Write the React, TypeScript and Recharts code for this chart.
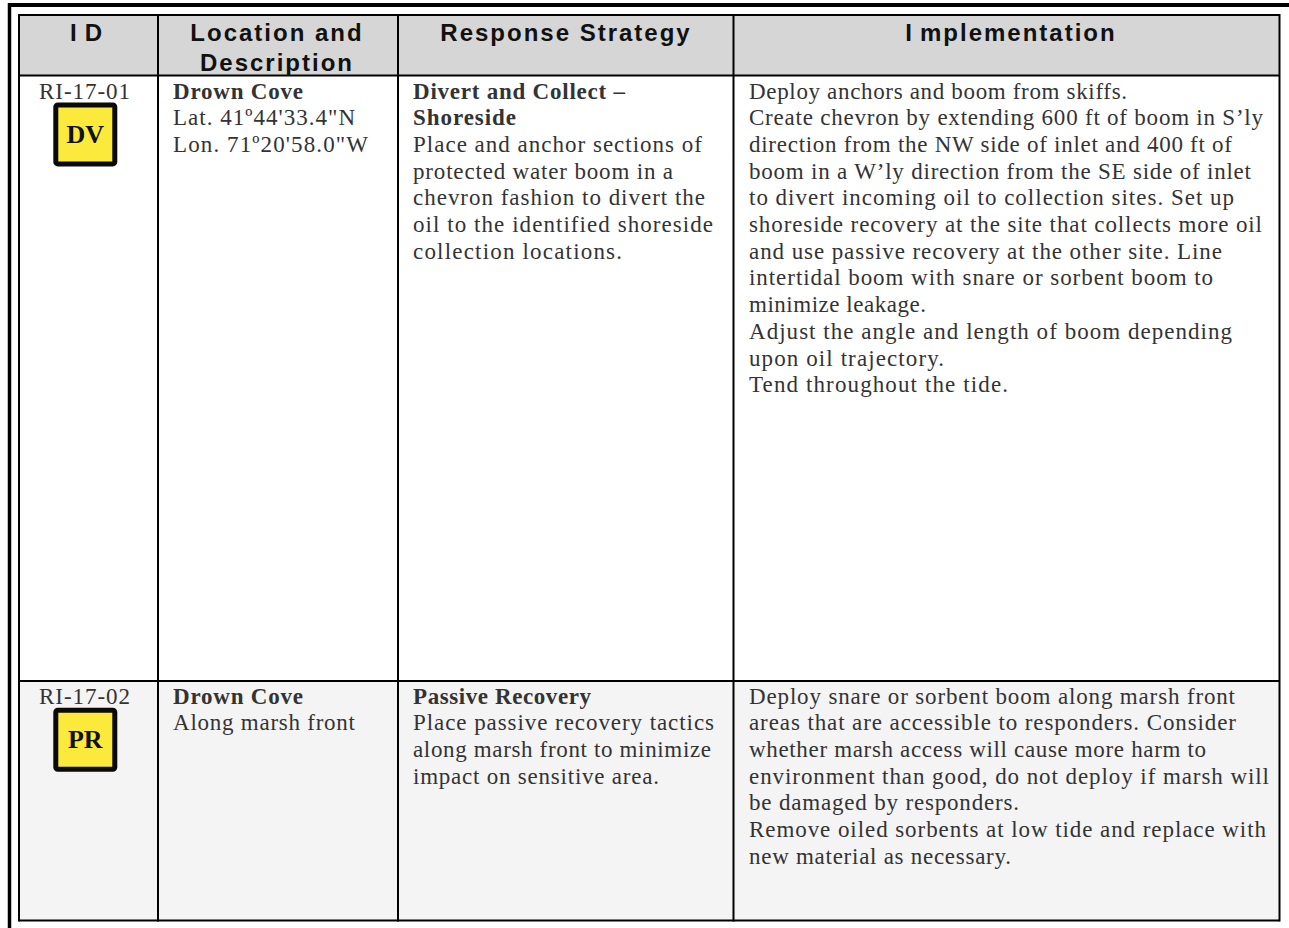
import { ScatterChart, Scatter, XAxis, YAxis, ReferenceArea, ReferenceLine } from "recharts";

const WIDTH = 1289;
const HEIGHT = 928;

const columnEdges = [19, 158, 398, 733.5, 1279.5];
const rowEdges = [15, 75.5, 681, 920.5];
const rowFills = ["#d6d6d6", "#ffffff", "#f4f4f4"];

const headerLabels = [["ID"], ["Location and", "Description"], ["Response Strategy"], ["Implementation"]];
const headerCenters = [87, 277, 566, 1011];

const ids = ["RI-17-01", "RI-17-02"];
const badges = ["DV", "PR"];

const locationBold = [["Drown Cove"], ["Drown Cove"]];
const locationText = [["Lat. 41º44'33.4\"N", "Lon. 71º20'58.0\"W"], ["Along marsh front"]];

const strategyBold = [["Divert and Collect –", "Shoreside"], ["Passive Recovery"]];
const strategyText = [
  [
    "Place and anchor sections of",
    "protected water boom in a",
    "chevron fashion to divert the",
    "oil to the identified shoreside",
    "collection locations.",
  ],
  ["Place passive recovery tactics", "along marsh front to minimize", "impact on sensitive area."],
];

const implementationText = [
  [
    "Deploy anchors and boom from skiffs.",
    "Create chevron by extending 600 ft of boom in S’ly",
    "direction from the NW side of inlet and 400 ft of",
    "boom in a W’ly direction from the SE side of inlet",
    "to divert incoming oil to collection sites. Set up",
    "shoreside recovery at the site that collects more oil",
    "and use passive recovery at the other site. Line",
    "intertidal boom with snare or sorbent boom to",
    "minimize leakage.",
    "Adjust the angle and length of boom depending",
    "upon oil trajectory.",
    "Tend throughout the tide.",
  ],
  [
    "Deploy snare or sorbent boom along marsh front",
    "areas that are accessible to responders. Consider",
    "whether marsh access will cause more harm to",
    "environment than good, do not deploy if marsh will",
    "be damaged by responders.",
    "Remove oiled sorbents at low tide and replace with",
    "new material as necessary.",
  ],
];

// measured run length of each line, the pdf spacing is uneven
const idWidth = 91;
const locationWidths = [[130, 182, 195], [130, 182]];
const strategyWidths = [[212, 103, 289, 260, 292, 300, 209], [178, 301, 298, 246]];
const implementationWidths = [
  [378, 514, 483, 502, 485, 513, 473, 464, 177, 483, 195, 259],
  [486, 487, 457, 520, 270, 517, 262],
];

const firstBaselines = [98.5, 703.5];
const linePitch = 26.7;
const textLefts = [173, 413, 749];
const idCenter = 84.5;
const badgeCenter = 85.3;
const badgeOffsets = [134.4, 739.7];

type TextPoint = { x: number; y: number; label: string; run: number; bold?: boolean; anchor?: string };

function cellLines(row: number, left: number, bold: string[], normal: string[], runs: number[]): TextPoint[] {
  return [
    ...bold.map((label) => ({ label, bold: true })),
    ...normal.map((label) => ({ label, bold: false })),
  ].map((l, i) => ({ ...l, x: left, y: firstBaselines[row] + i * linePitch, run: runs[i] }));
}

const bodyPoints: TextPoint[] = [0, 1].flatMap((row) => [
  { x: idCenter, y: firstBaselines[row], label: ids[row], run: idWidth, anchor: "middle" },
  ...cellLines(row, textLefts[0], locationBold[row], locationText[row], locationWidths[row]),
  ...cellLines(row, textLefts[1], strategyBold[row], strategyText[row], strategyWidths[row]),
  ...cellLines(row, textLefts[2], [], implementationText[row], implementationWidths[row]),
]);

const headerPoints = headerLabels.flatMap((lines, c) =>
  lines.map((label, i) => ({ x: headerCenters[c], y: 40.5 + i * 30, label })),
);

const badgePoints = badges.map((label, i) => ({ x: badgeCenter, y: badgeOffsets[i], label }));

function BodyText(props: any) {
  const { cx, cy, payload } = props;
  return (
    <text
      x={cx}
      y={cy}
      textAnchor={payload.anchor ?? "start"}
      fontFamily="'Liberation Serif', serif"
      fontSize={23}
      fontWeight={payload.bold ? 700 : 400}
      textLength={payload.run}
      lengthAdjust="spacing"
      fill="#333333"
    >
      {payload.label}
    </text>
  );
}

// the source pdf font leaves a wide gap after a leading capital I
function HeaderText(props: any) {
  const { cx, cy, payload } = props;
  const label: string = payload.label;
  const gap = label.startsWith("I");
  return (
    <text
      x={cx}
      y={cy}
      textAnchor="middle"
      fontFamily="'Liberation Sans', sans-serif"
      fontSize={24}
      fontWeight={700}
      letterSpacing={2}
      fill="#111111"
    >
      {gap ? (
        <>
          <tspan>I</tspan>
          <tspan dx={6}>{label.slice(1)}</tspan>
        </>
      ) : (
        label
      )}
    </text>
  );
}

function Badge(props: any) {
  const { cx, cy, payload } = props;
  return (
    <g>
      <rect x={cx - 29.5} y={cy - 29.5} width={59} height={59} rx={2} fill="#fbea3c" stroke="#0a0a0a" strokeWidth={5} />
      <text
        x={cx}
        y={cy + 8.5}
        textAnchor="middle"
        fontFamily="'Liberation Serif', serif"
        fontSize={26}
        fontWeight={700}
        fill="#111111"
      >
        {payload.label}
      </text>
    </g>
  );
}

export default function App() {
  return (
    <div style={{ position: "absolute", left: 0, top: 0, width: WIDTH, height: HEIGHT, background: "#fff" }}>
      <ScatterChart width={WIDTH} height={HEIGHT} margin={{ top: 0, right: 0, bottom: 0, left: 0 }}>
        <XAxis type="number" dataKey="x" domain={[0, WIDTH]} hide />
        <YAxis type="number" dataKey="y" domain={[0, HEIGHT]} reversed hide />

        {rowFills.map((fill, i) => (
          <ReferenceArea
            key={i}
            x1={columnEdges[0]}
            x2={columnEdges[columnEdges.length - 1]}
            y1={rowEdges[i]}
            y2={rowEdges[i + 1]}
            fill={fill}
            fillOpacity={1}
            stroke="none"
          />
        ))}

        {columnEdges.map((x) => (
          <ReferenceLine
            key={x}
            segment={[{ x, y: rowEdges[0] - 1 }, { x, y: rowEdges[rowEdges.length - 1] + 1 }]}
            stroke="#000"
            strokeWidth={2}
          />
        ))}
        {rowEdges.map((y) => (
          <ReferenceLine
            key={y}
            segment={[{ x: columnEdges[0], y }, { x: columnEdges[columnEdges.length - 1], y }]}
            stroke="#000"
            strokeWidth={2}
          />
        ))}

        <ReferenceLine segment={[{ x: 8, y: 5 }, { x: WIDTH, y: 5 }]} stroke="#000" strokeWidth={4} />
        <ReferenceLine segment={[{ x: 9.5, y: 3 }, { x: 9.5, y: HEIGHT }]} stroke="#000" strokeWidth={3.5} />

        <Scatter data={headerPoints} shape={HeaderText} isAnimationActive={false} />
        <Scatter data={bodyPoints} shape={BodyText} isAnimationActive={false} />
        <Scatter data={badgePoints} shape={Badge} isAnimationActive={false} />
      </ScatterChart>
    </div>
  );
}
